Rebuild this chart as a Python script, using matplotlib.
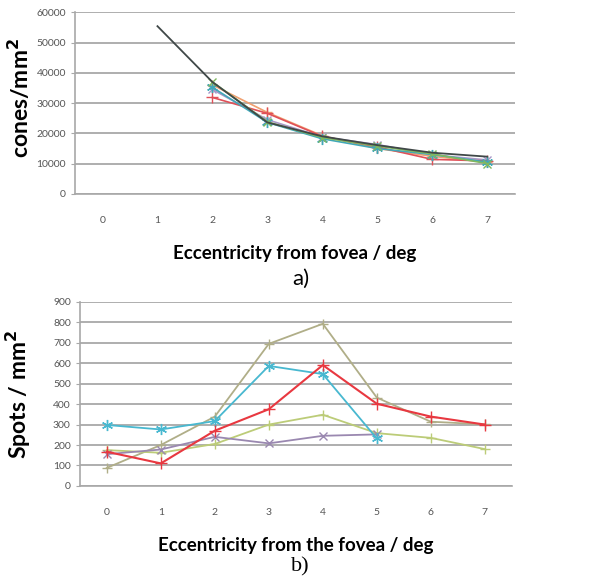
import numpy as np
import matplotlib
matplotlib.use('Agg')
import matplotlib.pyplot as plt

plt.rcParams['font.family'] = ['Lato', 'DejaVu Sans']

# --- data, panel a) cone density ---
ecc = [0, 1, 2, 3, 4, 5, 6, 7]
cones_x = {
    'model': [1, 2, 3, 4, 5, 6, 7],
    'other': [2, 3, 4, 5, 6, 7],
}
cones_model = [55400, 36950, 23600, 19000, 16100, 13600, 12300]
cones_green = [37000, 23800, 18600, 15800, 13200, 10000]
cones_red = [31850, 26600, 19000, 15500, 11400, 10900]
cones_orange = [36000, 26900, 19200, 15000, 12400, 10500]
cones_purple = [34500, 24500, 18800, 16300, 12900, 11200]
cones_teal = [35200, 23600, 18200, 15000, 13000, 10500]

# --- data, panel b) spot density ---
spots_cyan_x = [0, 1, 2, 3, 4, 5]
spots_cyan = [298, 276, 317, 587, 547, 232]
spots_olive = [88, 200, 339, 695, 793, 432, 314, 301]
spots_red = [167, 110, 270, 375, 591, 402, 339, 300]
spots_yg = [175, 162, 205, 300, 348, 258, 235, 180]
spots_purple_x = [0, 1, 2, 3, 4, 5]
spots_purple = [155, 178, 240, 208, 245, 252]

STAR = (6, 2, 0)  # asterisk-like marker, as in the old Excel charts

fig = plt.figure(figsize=(6, 5.84), dpi=100)
ax1 = fig.add_axes([0.125, 0.668, 0.733, 0.311])
ax2 = fig.add_axes([0.133, 0.168, 0.72, 0.315])


def style(ax, ymax, step):
    ax.set_xlim(-0.5, 7.5)
    ax.set_ylim(0, ymax)
    ax.set_yticks(np.arange(0, ymax + 1, step))
    ax.set_xticks(ecc)
    ax.grid(axis='y', color='#a8a8a8', linewidth=1.3)
    ax.set_axisbelow(True)
    for s in ['top', 'right']:
        ax.spines[s].set_visible(False)
    for s in ['left', 'bottom']:
        ax.spines[s].set_color('#a8a8a8')
        ax.spines[s].set_linewidth(1.2)
    ax.tick_params(axis='x', length=0, pad=16, labelsize=7.5,
                   labelcolor='#555555')
    ax.tick_params(axis='y', length=3, color='#a8a8a8', labelsize=7.5,
                   labelcolor='#555555')


style(ax1, 60000, 10000)
xo = cones_x['other']
ax1.plot(xo, cones_orange, color='#f0a070', marker='+', ms=7, lw=1.2)
ax1.plot(xo, cones_purple, color='#a898c8', marker='x', ms=6, lw=1.2)
ax1.plot(xo, cones_red, color='#e05058', marker='+', ms=8, lw=1.2)
ax1.plot(xo, cones_teal, color='#40a8b8', marker=STAR, ms=8, lw=1.2)
ax1.plot(xo, cones_green, color='#80b860', marker='x', ms=6, lw=1.2)
ax1.plot(cones_x['model'], cones_model, color='#404848', lw=1.3)
ax1.set_ylabel('cones/mm$^\\mathbf{2}$', fontsize=16.5, fontweight='bold')
ax1.yaxis.set_label_coords(-0.095, 0.53)
ax1.set_xlabel('Eccentricity from fovea / deg', fontsize=13.5,
               fontweight='bold', labelpad=14)
fig.text(0.502, 0.522, 'a)', fontsize=16, ha='center', va='center')

style(ax2, 900, 100)
ax2.plot(ecc, spots_olive, color='#b0ae88', marker='+', ms=7, lw=1.3)
ax2.plot(ecc, spots_yg, color='#bccc78', marker='+', ms=7, lw=1.3)
ax2.plot(spots_purple_x, spots_purple, color='#9a88b0', marker='x',
         ms=6, lw=1.3)
ax2.plot(spots_cyan_x, spots_cyan, color='#48b8d0', marker=STAR, ms=8,
         lw=1.3)
ax2.plot(ecc, spots_red, color='#e83840', marker='+', ms=8, lw=1.5)
ax2.set_ylabel('Spots / mm$^\\mathbf{2}$', fontsize=16.5, fontweight='bold')
ax2.yaxis.set_label_coords(-0.109, 0.5)
ax2.set_xlabel('Eccentricity from the fovea / deg', fontsize=13.5,
               fontweight='bold', labelpad=14)
fig.text(0.5, 0.029, 'b)', fontsize=16, family='Liberation Serif',
         ha='center', va='center')

fig.savefig('out.png', dpi=100)
